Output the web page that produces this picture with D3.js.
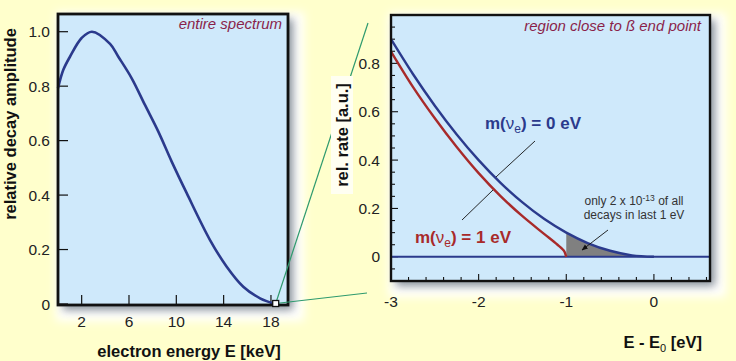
<!DOCTYPE html>
<html><head><meta charset="utf-8">
<script src="https://cdn.jsdelivr.net/npm/d3@7"></script>
<style>
html,body{margin:0;padding:0;background:#ffffcc;}
svg{display:block;font-family:"Liberation Sans",Arial,Helvetica,sans-serif;}
</style></head>
<body>
<svg id="c" width="736" height="361"></svg>
<script>
// ---- data ----
const leftE   = [0, 0.45, 1.01, 2.0, 2.87, 4.4, 5.1, 6.23, 7.35, 8.48, 9.61, 10.88, 12.85, 14.26, 15.66, 17.08, 18.4];
const leftAmp = [0.793, 0.86, 0.908, 0.977, 1.0, 0.955, 0.908, 0.829, 0.731, 0.633, 0.523, 0.407, 0.235, 0.137, 0.0635, 0.021, 0];
const leftXTicks = [2, 6, 10, 14, 18];
const leftYTicks = [0, 0.2, 0.4, 0.6, 0.8, 1.0];
const leftYLabels = ["0", "0.2", "0.4", "0.6", "0.8", "1.0"];

const rightE0 = [-3, -2.75, -2.5, -2.25, -2, -1.75, -1.5, -1.25, -1, -0.75, -0.5, -0.25, 0];
const rate0   = [0.9, 0.756, 0.625, 0.506, 0.4, 0.306, 0.225, 0.156, 0.1, 0.056, 0.025, 0.006, 0];
const rightE1 = [-3, -2.75, -2.5, -2.25, -2, -1.75, -1.5, -1.25, -1.1, -1.05, -1.02, -1];
const rate1   = [0.849, 0.703, 0.573, 0.454, 0.346, 0.251, 0.168, 0.094, 0.050, 0.034, 0.021, 0];
const rightXTicks = [-3, -2, -1, 0];
const rightXLabels = ["-3", "-2", "-1", "0"];
const rightYTicks = [0, 0.2, 0.4, 0.6, 0.8];
const rightYLabels = ["0", "0.2", "0.4", "0.6", "0.8"];

// ---- setup ----
const svg = d3.select("#c");
const defs = svg.append("defs");
const f = defs.append("filter").attr("id","sh").attr("x","-20%").attr("y","-20%").attr("width","140%").attr("height","140%");
f.append("feGaussianBlur").attr("stdDeviation", 4);
const fw = defs.append("filter").attr("id","glow").attr("x","-20%").attr("y","-20%").attr("width","140%").attr("height","140%");
fw.append("feGaussianBlur").attr("stdDeviation", 5);

const BG = "#cfe9fb", BLUE = "#2b3a8c", RED = "#a82a2a", GREEN = "#2e9a6e", TITLE = "#8a1f4a";

function panel(x0, y0, x1, y1) {
  svg.append("rect").attr("x", x0 - 2).attr("y", y0 - 2).attr("width", x1 - x0 + 18).attr("height", y1 - y0 + 18)
    .attr("fill", "#ffffff").attr("filter", "url(#glow)");
  svg.append("rect").attr("x", x0 + 5).attr("y", y0 + 5).attr("width", x1 - x0).attr("height", y1 - y0)
    .attr("fill", "#7c8590").attr("opacity", 0.9).attr("filter", "url(#sh)");
  svg.append("rect").attr("x", x0).attr("y", y0).attr("width", x1 - x0).attr("height", y1 - y0)
    .attr("fill", BG);
}
function frame(x0, y0, x1, y1, sw) {
  svg.append("rect").attr("x", x0).attr("y", y0).attr("width", x1 - x0).attr("height", y1 - y0)
    .attr("fill", "none").attr("stroke", "#111").attr("stroke-width", sw);
}

// ---- left panel ----
const L = {x0: 58, x1: 288, y0: 14, y1: 305};
panel(L.x0, L.y0, L.x1, L.y1);
const xL = d3.scaleLinear().domain([0, 19.44]).range([L.x0, L.x1]);
const yL = d3.scaleLinear().domain([0, 1]).range([304, 31.7]);

const gL = svg.append("g");
leftYTicks.forEach((t, i) => {
  gL.append("line").attr("x1", L.x0).attr("x2", L.x0 + 10).attr("y1", yL(t)).attr("y2", yL(t))
    .attr("stroke", "#111").attr("stroke-width", 1.2);
  gL.append("text").attr("x", 50).attr("y", yL(t) + 5.5).attr("text-anchor", "end")
    .attr("font-size", 15.5).attr("fill", "#222").text(leftYLabels[i]);
});
leftXTicks.forEach(t => {
  gL.append("line").attr("x1", xL(t)).attr("x2", xL(t)).attr("y1", L.y1).attr("y2", L.y1 - 10)
    .attr("stroke", "#111").attr("stroke-width", 1.2);
  gL.append("text").attr("x", xL(t)).attr("y", 327).attr("text-anchor", "middle")
    .attr("font-size", 15.5).attr("fill", "#222").text(t);
});

const leftData = leftE.map((e, i) => [e, leftAmp[i]]);
svg.append("path").datum(leftData)
  .attr("d", d3.line().x(d => xL(d[0])).y(d => yL(d[1])).curve(d3.curveCatmullRom.alpha(0.5)))
  .attr("fill", "none").attr("stroke", BLUE).attr("stroke-width", 2.6);

frame(L.x0, L.y0, L.x1, L.y1, 2.8);

svg.append("text").attr("x", 282).attr("y", 29).attr("text-anchor", "end")
  .attr("font-size", 15).attr("font-style", "italic").attr("fill", TITLE).text("entire spectrum");

svg.append("text").attr("x", 189).attr("y", 357).attr("text-anchor", "middle")
  .attr("font-size", 16.5).attr("font-weight", "bold").attr("fill", "#111").text("electron energy E [keV]");
svg.append("text").attr("transform", "translate(16,124) rotate(-90)").attr("text-anchor", "middle")
  .attr("font-size", 16.5).attr("font-weight", "bold").attr("fill", "#111").text("relative decay amplitude");

// ---- zoom connectors ----
const sq = [xL(18.4), 303.5];
svg.append("line").attr("x1", sq[0]).attr("y1", sq[1]).attr("x2", 368).attr("y2", 23)
  .attr("stroke", GREEN).attr("stroke-width", 1.2);
svg.append("line").attr("x1", sq[0]).attr("y1", sq[1]).attr("x2", 367).attr("y2", 293)
  .attr("stroke", GREEN).attr("stroke-width", 1.2);
svg.append("rect").attr("x", sq[0] - 3).attr("y", sq[1] - 3).attr("width", 6).attr("height", 6)
  .attr("fill", "#fff").attr("stroke", "#111").attr("stroke-width", 1.3);

// ---- right panel ----
const R = {x0: 391, x1: 710, y0: 15, y1: 281};
panel(R.x0, R.y0, R.x1, R.y1);
const xR = d3.scaleLinear().domain([-3, 0.64]).range([R.x0, R.x1]);
const yR = d3.scaleLinear().domain([-0.1, 1.0]).range([R.y1, R.y0]);

// y label box & label
svg.append("rect").attr("x", 331).attr("y", 76).attr("width", 22).attr("height", 118).attr("fill", "#fffff2");
svg.append("text").attr("transform", "translate(348,135) rotate(-90)").attr("text-anchor", "middle")
  .attr("font-size", 16.5).attr("font-weight", "bold").attr("fill", "#111").text("rel. rate [a.u.]");

const gR = svg.append("g");
d3.range(-0.05, 0.96, 0.05).forEach(t => {
  const major = Math.abs(Math.round(t * 10) / 10 - t) < 1e-6 && Math.round(t * 10) % 2 === 0;
  gR.append("line").attr("x1", R.x0).attr("x2", R.x0 + (major ? 7 : 4)).attr("y1", yR(t)).attr("y2", yR(t))
    .attr("stroke", "#111").attr("stroke-width", 1.1);
});
rightYTicks.forEach((t, i) => {
  gR.append("text").attr("x", 380).attr("y", yR(t) + 5.5).attr("text-anchor", "end")
    .attr("font-size", 15.5).attr("fill", "#222").text(rightYLabels[i]);
});
d3.range(-2.8, 0.61, 0.2).forEach(t => {
  const major = Math.abs(Math.round(t) - t) < 1e-6;
  gR.append("line").attr("x1", xR(t)).attr("x2", xR(t)).attr("y1", R.y1).attr("y2", R.y1 - (major ? 7 : 4))
    .attr("stroke", "#111").attr("stroke-width", 1.1);
});
rightXTicks.forEach((t, i) => {
  gR.append("text").attr("x", xR(t)).attr("y", 307).attr("text-anchor", "middle")
    .attr("font-size", 15.5).attr("fill", "#222").text(rightXLabels[i]);
});

// shaded region
const shade = rightE0.map((e, i) => [e, rate0[i]]).filter(d => d[0] >= -1);
svg.append("path").datum(shade)
  .attr("d", d3.area().x(d => xR(d[0])).y0(yR(0)).y1(d => yR(d[1])).curve(d3.curveMonotoneX))
  .attr("fill", "#808080");

// baseline
svg.append("line").attr("x1", R.x0).attr("x2", R.x1).attr("y1", yR(0)).attr("y2", yR(0))
  .attr("stroke", BLUE).attr("stroke-width", 2);

const d0 = rightE0.map((e, i) => [e, rate0[i]]);
const d1 = rightE1.map((e, i) => [e, rate1[i]]);
const lineR = d3.line().x(d => xR(d[0])).y(d => yR(d[1])).curve(d3.curveMonotoneX);
svg.append("path").datum(d1).attr("d", lineR).attr("fill", "none").attr("stroke", RED).attr("stroke-width", 2.4);
svg.append("path").datum(d0).attr("d", lineR).attr("fill", "none").attr("stroke", BLUE).attr("stroke-width", 2.4);

frame(R.x0, R.y0, R.x1, R.y1, 2.4);

svg.append("text").attr("x", 701).attr("y", 31).attr("text-anchor", "end")
  .attr("font-size", 15).attr("font-style", "italic").attr("fill", TITLE).text("region close to ß end point");

svg.append("text").attr("x", 702).attr("y", 348).attr("text-anchor", "end")
  .attr("font-size", 16.5).attr("font-weight", "bold").attr("fill", "#111")
  .call(t => {
    t.append("tspan").text("E - E");
    t.append("tspan").attr("font-size", 11).attr("font-weight", "normal").attr("dy", 4).text("0");
    t.append("tspan").attr("dy", -4).text(" [eV]");
  });

// annotations
function massLabel(x, y, color, val) {
  const t = svg.append("text").attr("x", x).attr("y", y).attr("font-size", 17).attr("font-weight", "bold").attr("fill", color);
  t.append("tspan").text("m(");
  t.append("tspan").attr("font-weight", "normal").text("ν");
  t.append("tspan").attr("font-weight", "normal").attr("font-size", 12).attr("dy", 4).text("e");
  t.append("tspan").attr("dy", -4).text(") = " + val + " eV");
}
massLabel(485, 129, BLUE, "0");
massLabel(415, 243, RED, "1");
svg.append("line").attr("x1", 535).attr("y1", 141).attr("x2", 496).attr("y2", 177).attr("stroke", "#111").attr("stroke-width", 0.9);
svg.append("line").attr("x1", 493).attr("y1", 190).attr("x2", 462).attr("y2", 220).attr("stroke", "#111").attr("stroke-width", 0.9);

const note = svg.append("text").attr("x", 634).attr("y", 205).attr("text-anchor", "middle")
  .attr("font-size", 12).attr("fill", "#333");
note.append("tspan").text("only 2 x 10");
note.append("tspan").attr("font-size", 8.5).attr("dy", -4).text("-13");
note.append("tspan").attr("dy", 4).text(" of all");
svg.append("text").attr("x", 634).attr("y", 219).attr("text-anchor", "middle")
  .attr("font-size", 12).attr("fill", "#333").text("decays in last 1 eV");

defs.append("marker").attr("id", "arr").attr("viewBox", "0 0 10 10").attr("refX", 9).attr("refY", 5)
  .attr("markerWidth", 7).attr("markerHeight", 7).attr("orient", "auto")
  .append("path").attr("d", "M0,1 L10,5 L0,9 Z").attr("fill", "#111");
svg.append("line").attr("x1", 608).attr("y1", 230).attr("x2", 582).attr("y2", 250)
  .attr("stroke", "#111").attr("stroke-width", 0.9).attr("marker-end", "url(#arr)");
</script>
</body></html>
